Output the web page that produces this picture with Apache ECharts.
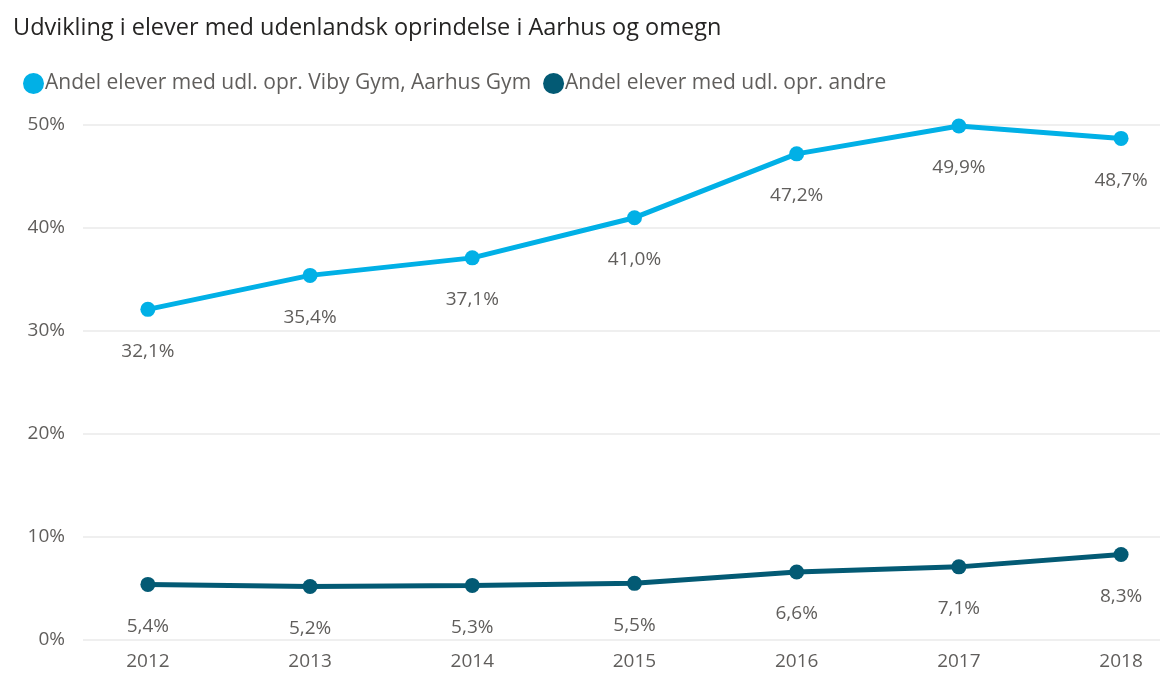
<!DOCTYPE html>
<html>
<head>
<meta charset="utf-8">
<script src="https://cdn.jsdelivr.net/npm/echarts@6/dist/echarts.min.js"></script>
<style>
  html, body { margin: 0; padding: 0; background: #fff; }
  #chart { width: 1173px; height: 684px; }
</style>
</head>
<body>
<div id="chart"></div>
<script>
// data
const years = [2012, 2013, 2014, 2015, 2016, 2017, 2018];
const vibyAarhus = [32.1, 35.4, 37.1, 41.0, 47.2, 49.9, 48.7];
const andre = [5.4, 5.2, 5.3, 5.5, 6.6, 7.1, 8.3];

const FONT = "'Open Sans', 'Noto Sans', sans-serif";
const GREY = "#605E5C";

function fmt(v) {
  return v.toFixed(1).replace(".", ",") + "%";
}

let chart = echarts.init(document.getElementById("chart"));
chart.setOption({
  animation: false,
  title: {
    text: "Udvikling i elever med udenlandsk oprindelse i Aarhus og omegn",
    left: 8,
    top: 11,
    textStyle: { fontFamily: FONT, fontSize: 23.5, fontWeight: "normal", color: "#252423", letterSpacing: 0.3 },
  },
  legend: {
    left: 18,
    top: 68,
    itemWidth: 21,
    itemHeight: 21,
    itemGap: 12,
    icon: "circle",
    textStyle: { fontFamily: FONT, fontSize: 21, color: GREY, padding: [0, 0, 0, -4] },
  },
  grid: { left: 83, right: 13, top: 125, bottom: 44, containLabel: false },
  xAxis: {
    type: "value",
    min: 2011.6,
    max: 2018.24,
    axisLine: { show: false },
    axisTick: { show: false },
    splitLine: { show: false },
    axisLabel: {
      customValues: years,
      formatter: (v) => String(v),
      fontFamily: FONT,
      fontSize: 19,
      color: GREY,
      margin: 12,
    },
  },
  yAxis: {
    type: "value",
    min: 0,
    max: 50,
    interval: 10,
    axisLine: { show: false },
    axisTick: { show: false },
    splitLine: { lineStyle: { color: "#EAEAEA", width: 1.5 } },
    axisLabel: {
      formatter: "{value}%",
      fontFamily: FONT,
      fontSize: 19,
      color: GREY,
      margin: 18,
    },
  },
  series: [
    {
      name: "Andel elever med udl. opr. Viby Gym, Aarhus Gym",
      type: "line",
      data: years.map((y, i) => [y, vibyAarhus[i]]),
      color: "#01B0E6",
      lineStyle: { width: 5 },
      symbol: "circle",
      symbolSize: 15,
      label: {
        show: true,
        position: "bottom",
        distance: 25,
        formatter: (p) => fmt(p.value[1]),
        fontFamily: FONT,
        fontSize: 19,
        color: GREY,
      },
    },
    {
      name: "Andel elever med udl. opr. andre",
      type: "line",
      data: years.map((y, i) => [y, andre[i]]),
      color: "#035A74",
      lineStyle: { width: 5 },
      symbol: "circle",
      symbolSize: 15,
      label: {
        show: true,
        position: "bottom",
        distance: 25,
        formatter: (p) => fmt(p.value[1]),
        fontFamily: FONT,
        fontSize: 19,
        color: GREY,
      },
    },
  ],
});
</script>
</body>
</html>
